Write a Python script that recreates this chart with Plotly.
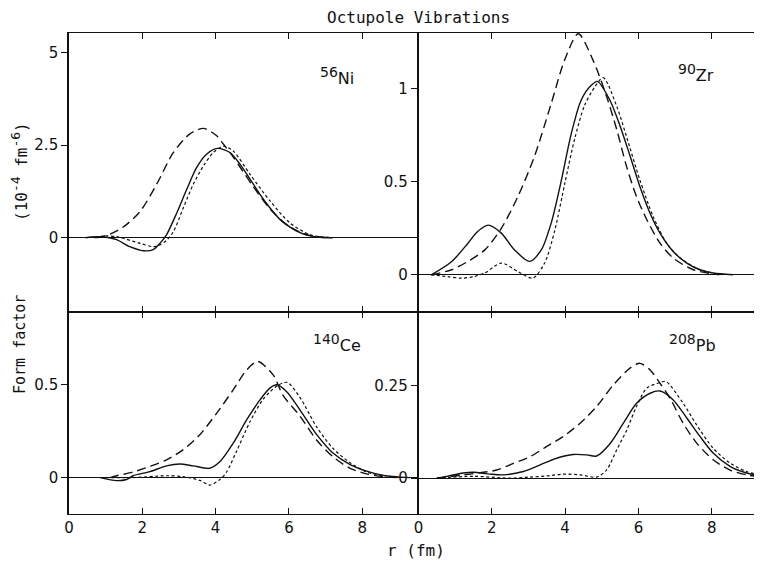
import plotly.graph_objects as go

# ---------------- data ----------------
# 56Ni
ni_solid_r = [0.45, 0.6, 0.85, 1.1, 1.3, 1.66, 2.03, 2.3, 2.48, 2.66, 2.94, 3.21, 3.48, 3.76, 4.05, 4.39, 4.67, 4.94, 5.21, 5.48, 5.76, 6.03, 6.30, 6.58, 6.85, 7.2]
ni_solid_v = [0.0, 0.02, 0.03, 0.0, -0.05, -0.24, -0.35, -0.32, -0.15, 0.08, 0.67, 1.30, 1.89, 2.26, 2.41, 2.30, 1.98, 1.58, 1.17, 0.81, 0.49, 0.29, 0.14, 0.05, 0.015, 0.0]
ni_dash_r = [0.75, 1.12, 1.48, 1.94, 2.39, 2.85, 3.30, 3.67, 4.03, 4.21, 4.5, 5.0, 5.5, 6.0, 6.5, 7.0]
ni_dash_v = [0.0, 0.1, 0.29, 0.71, 1.44, 2.30, 2.80, 2.95, 2.75, 2.53, 2.15, 1.42, 0.76, 0.31, 0.08, 0.01]
ni_dot_r = [0.7, 1.0, 1.3, 1.5, 1.94, 2.30, 2.48, 2.66, 2.85, 3.12, 3.39, 3.67, 3.94, 4.22, 4.49, 4.94, 5.48, 6.03, 6.58, 7.1]
ni_dot_v = [0.0, 0.05, 0.03, -0.02, -0.15, -0.24, -0.19, -0.07, 0.17, 0.81, 1.44, 1.94, 2.30, 2.47, 2.33, 1.71, 1.0, 0.40, 0.08, 0.01]

# 90Zr
zr_solid_r = [0.35, 0.9, 1.35, 1.6, 1.90, 2.26, 2.62, 3.03, 3.35, 3.62, 3.90, 4.17, 4.44, 4.72, 4.88, 5.22, 5.50, 5.77, 6.04, 6.32, 6.59, 6.95, 7.32, 7.68, 8.04, 8.58]
zr_solid_v = [0.0, 0.07, 0.17, 0.23, 0.267, 0.224, 0.134, 0.072, 0.134, 0.278, 0.51, 0.76, 0.94, 1.02, 1.04, 0.94, 0.80, 0.64, 0.475, 0.33, 0.224, 0.125, 0.063, 0.027, 0.01, 0.0]
zr_dash_r = [0.35, 0.9, 1.35, 1.81, 2.26, 2.71, 3.17, 3.62, 3.99, 4.36, 4.77, 5.13, 5.41, 5.68, 5.95, 6.23, 6.59, 6.95, 7.5, 8.2]
zr_dash_v = [0.0, 0.027, 0.072, 0.134, 0.25, 0.42, 0.64, 0.92, 1.156, 1.296, 1.15, 0.96, 0.78, 0.58, 0.42, 0.296, 0.17, 0.09, 0.027, 0.0]
zr_dot_r = [0.35, 0.8, 1.17, 1.5, 1.81, 2.26, 2.71, 3.12, 3.44, 3.72, 3.99, 4.26, 4.53, 4.81, 5.04, 5.41, 5.68, 6.04, 6.41, 6.77, 7.14, 7.68, 8.3]
zr_dot_v = [0.0, -0.01, -0.018, -0.01, 0.01, 0.063, 0.018, -0.018, 0.063, 0.24, 0.49, 0.73, 0.91, 1.01, 1.06, 0.905, 0.74, 0.51, 0.31, 0.17, 0.09, 0.027, 0.0]

# 140Ce
ce_solid_r = [0.85, 1.30, 1.57, 1.75, 2.21, 2.66, 3.03, 3.39, 3.84, 4.12, 4.48, 4.85, 5.21, 5.48, 5.67, 5.94, 6.30, 6.76, 7.21, 7.67, 8.12, 8.58, 9.3]
ce_solid_v = [0.0, -0.016, -0.01, 0.01, 0.032, 0.063, 0.073, 0.063, 0.05, 0.086, 0.184, 0.31, 0.416, 0.479, 0.497, 0.46, 0.363, 0.23, 0.13, 0.07, 0.035, 0.012, 0.0]
ce_dash_r = [1.12, 1.30, 1.75, 2.21, 2.66, 3.12, 3.57, 4.03, 4.48, 4.85, 5.15, 5.57, 5.84, 6.30, 6.76, 7.21, 7.67, 8.12, 8.58, 9.0]
ce_dash_v = [0.0, 0.01, 0.03, 0.06, 0.095, 0.15, 0.23, 0.345, 0.47, 0.577, 0.622, 0.55, 0.44, 0.33, 0.2, 0.11, 0.05, 0.02, 0.005, 0.0]
ce_dot_r = [1.0, 1.75, 2.66, 3.12, 3.57, 3.84, 4.12, 4.30, 4.57, 4.94, 5.30, 5.67, 5.95, 6.30, 6.76, 7.21, 7.67, 8.12, 8.6, 9.0]
ce_dot_v = [0.0, 0.0, 0.01, 0.005, -0.015, -0.04, -0.01, 0.03, 0.14, 0.30, 0.42, 0.49, 0.51, 0.43, 0.27, 0.155, 0.08, 0.03, 0.01, 0.0]

# 208Pb
pb_solid_r = [0.5, 0.77, 1.22, 1.5, 1.95, 2.31, 2.86, 3.32, 3.77, 4.22, 4.59, 4.86, 5.23, 5.59, 5.95, 6.32, 6.59, 6.95, 7.32, 7.68, 8.04, 8.50, 8.95, 9.37]
pb_solid_v = [0.0, 0.005, 0.014, 0.016, 0.011, 0.009, 0.018, 0.036, 0.054, 0.064, 0.063, 0.06, 0.094, 0.149, 0.203, 0.23, 0.236, 0.212, 0.163, 0.113, 0.068, 0.032, 0.014, 0.005]
pb_dash_r = [0.5, 1.22, 2.13, 2.59, 3.04, 3.50, 3.95, 4.41, 4.86, 5.32, 5.77, 6.04, 6.32, 6.59, 6.86, 7.22, 7.59, 8.04, 8.50, 8.95, 9.37]
pb_dash_v = [0.0, 0.009, 0.022, 0.04, 0.058, 0.086, 0.113, 0.149, 0.194, 0.253, 0.298, 0.311, 0.293, 0.257, 0.217, 0.149, 0.095, 0.05, 0.022, 0.009, 0.003]
pb_dot_r = [0.5, 1.5, 2.5, 3.04, 3.50, 3.95, 4.41, 4.86, 5.13, 5.41, 5.68, 5.95, 6.23, 6.59, 6.75, 7.22, 7.59, 8.04, 8.50, 8.95, 9.37]
pb_dot_v = [0.0, 0.005, 0.0, 0.003, 0.006, 0.011, 0.009, 0.003, 0.022, 0.077, 0.13, 0.195, 0.244, 0.259, 0.262, 0.203, 0.144, 0.081, 0.041, 0.018, 0.008]

x_ticks = [0, 2, 4, 6, 8]
x_ticklabels = ["0", "2", "4", "6", "8"]
ni_ticks = [0, 2.5, 5]
ni_ticklabels = ["0", "2.5", "5"]
zr_ticks = [0, 0.5, 1]
zr_ticklabels = ["0", "0.5", "1"]
ce_ticks = [0, 0.5]
ce_ticklabels = ["0", "0.5"]
pb_ticks = [0, 0.25]
pb_ticklabels = ["0", "0.25"]

mass_numbers = ["56", "90", "140", "208"]
elements = ["Ni", "Zr", "Ce", "Pb"]

# ---------------- layout geometry ----------------
# The page body has an 8 px default margin, so the figure is made 8 px smaller
# and all target pixel positions (window coordinates) are shifted by OFF.
OFF = 8
WIN_W, WIN_H = 762, 562
W, H = WIN_W - OFF, WIN_H - OFF
PL, PT, PB = 69, 33, 514          # plot-area edges in window px
XSPLIT, YSPLIT = 418.5, 312       # panel split in window px
ML, MR, MT, MB = PL - OFF, 0, PT - OFF, WIN_H - PB
PW, PH = W - ML - MR, H - MT - MB


def px2x(px):
    return (px - OFF - ML) / PW


def py2y(py):
    return (H - MB - (py - OFF)) / PH


xl_dom = [0, px2x(XSPLIT)]
xr_dom = [px2x(XSPLIT), 1]
yt_dom = [py2y(YSPLIT), 1]
yb_dom = [0, py2y(YSPLIT)]

SC = 36.65  # px per fm
xl_range = [0, (XSPLIT - PL) / SC]
xr_range = [0, (WIN_W - XSPLIT) / SC]

FONT = "DejaVu Sans"
MONO = "DejaVu Sans Mono"
BLACK = "#111111"

fig = go.Figure()

panels = [
    (ni_solid_r, ni_solid_v, ni_dash_r, ni_dash_v, ni_dot_r, ni_dot_v, "x", "y"),
    (zr_solid_r, zr_solid_v, zr_dash_r, zr_dash_v, zr_dot_r, zr_dot_v, "x2", "y2"),
    (ce_solid_r, ce_solid_v, ce_dash_r, ce_dash_v, ce_dot_r, ce_dot_v, "x3", "y3"),
    (pb_solid_r, pb_solid_v, pb_dash_r, pb_dash_v, pb_dot_r, pb_dot_v, "x4", "y4"),
]

for sr, sv, dr, dv, tr, tv, xa, ya in panels:
    fig.add_trace(go.Scatter(x=sr, y=sv, xaxis=xa, yaxis=ya, mode="lines",
                             line=dict(color=BLACK, width=1.4, shape="spline", smoothing=0.8),
                             showlegend=False, hoverinfo="skip"))
    fig.add_trace(go.Scatter(x=dr, y=dv, xaxis=xa, yaxis=ya, mode="lines",
                             line=dict(color=BLACK, width=1.4, dash="9px,5px", shape="spline", smoothing=0.8),
                             showlegend=False, hoverinfo="skip"))
    fig.add_trace(go.Scatter(x=tr, y=tv, xaxis=xa, yaxis=ya, mode="lines",
                             line=dict(color=BLACK, width=1.2, dash="3px,2.5px", shape="spline", smoothing=0.8),
                             showlegend=False, hoverinfo="skip"))

tickfont = dict(family=FONT, size=15, color=BLACK)


def xaxis(dom, rng, anchor, show_labels):
    return dict(domain=dom, range=rng, anchor=anchor, showgrid=False, zeroline=False,
                showline=True, linecolor=BLACK, linewidth=1.2, mirror="ticks",
                ticks="inside", ticklen=6, tickwidth=1.2, tickcolor=BLACK,
                tickvals=x_ticks, ticktext=x_ticklabels, showticklabels=show_labels,
                tickfont=tickfont, fixedrange=True, automargin=False)


def yaxis(dom, rng, anchor, tv, tt):
    return dict(domain=dom, range=rng, anchor=anchor, showgrid=False,
                zeroline=True, zerolinecolor=BLACK, zerolinewidth=1,
                showline=True, linecolor=BLACK, linewidth=1.6, mirror=False,
                ticks="outside", ticklen=6, tickwidth=1.2, tickcolor=BLACK,
                tickvals=tv, ticktext=tt, tickfont=tickfont, fixedrange=True, automargin=False)


fig.update_layout(
    width=W, height=H, autosize=False,
    margin=dict(l=ML, r=MR, t=MT, b=MB, pad=0),
    plot_bgcolor="white", paper_bgcolor="white",
    xaxis=xaxis(xl_dom, xl_range, "y", False),
    yaxis=yaxis(yt_dom, [-2.0, 5.52], "x", ni_ticks, ni_ticklabels),
    xaxis2=xaxis(xr_dom, xr_range, "y2", False),
    yaxis2=yaxis(yt_dom, [-0.2, 1.30], "x2", zr_ticks, zr_ticklabels),
    xaxis3=xaxis(xl_dom, xl_range, "y3", True),
    yaxis3=yaxis(yb_dom, [-0.195, 0.887], "x3", ce_ticks, ce_ticklabels),
    xaxis4=xaxis(xr_dom, xr_range, "y4", True),
    yaxis4=yaxis(yb_dom, [-0.097, 0.45], "x4", pb_ticks, pb_ticklabels),
)

ann = []
# title
ann.append(dict(text="Octupole Vibrations", x=px2x(418), y=py2y(18), xref="paper", yref="paper",
                showarrow=False, font=dict(family=MONO, size=16, color=BLACK), xanchor="center", yanchor="middle"))
# isotope labels: raised mass number + element symbol
for mn, el, (px, py) in zip(mass_numbers, elements, [(337, 76), (696, 73), (337, 343), (692, 343)]):
    lab = "<sup><span style='font-size:14px'>" + mn + "</span></sup>" + el
    ann.append(dict(text=lab, x=px2x(px), y=py2y(py), xref="paper", yref="paper", showarrow=False,
                    font=dict(family=FONT, size=16, color=BLACK), xanchor="center", yanchor="middle"))
# y titles
ann.append(dict(text="Form factor", x=px2x(20), y=py2y(345), xref="paper", yref="paper", showarrow=False,
                textangle=-90, font=dict(family=MONO, size=15, color=BLACK), xanchor="center", yanchor="middle"))
ann.append(dict(text="(10<sup><span style='font-size:13px'>-4</span></sup> fm<sup><span style='font-size:13px'>-6</span></sup>)",
                x=px2x(20), y=py2y(172), xref="paper", yref="paper",
                showarrow=False, textangle=-90, font=dict(family=MONO, size=16, color=BLACK),
                xanchor="center", yanchor="middle"))
# x title
ann.append(dict(text="r (fm)", x=px2x(416), y=py2y(550), xref="paper", yref="paper", showarrow=False,
                font=dict(family=MONO, size=16, color=BLACK), xanchor="center", yanchor="middle"))
fig.update_layout(annotations=ann)

fig.write_html("out.html")
